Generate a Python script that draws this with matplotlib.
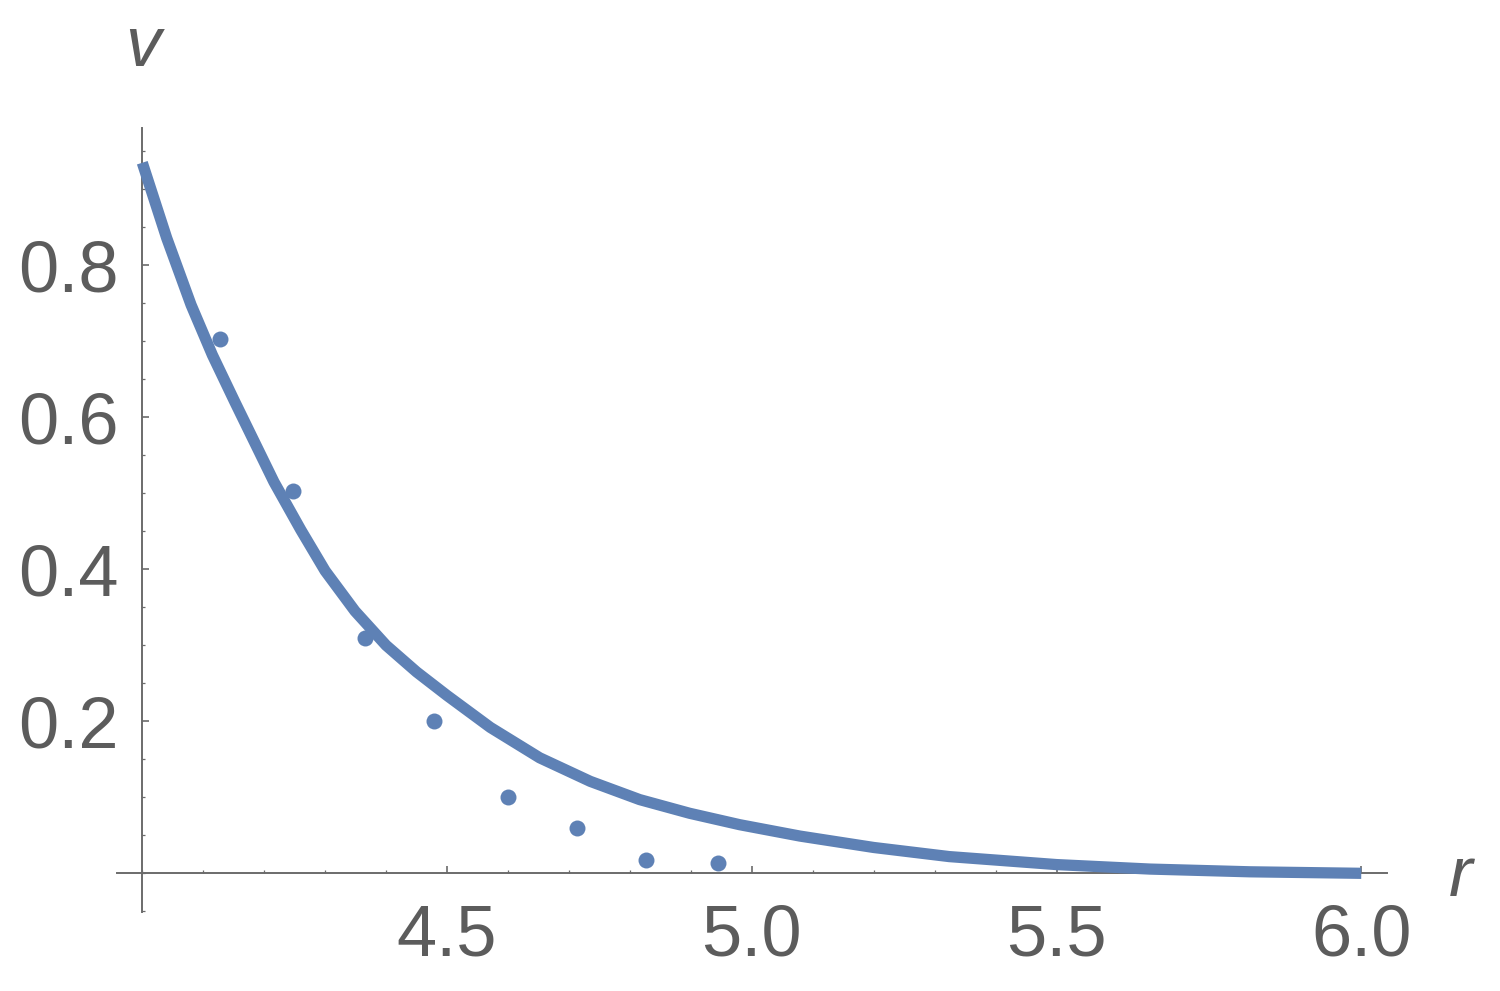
import matplotlib
matplotlib.use("Agg")
import matplotlib.pyplot as plt
from matplotlib.ticker import MultipleLocator, FixedLocator

# Fitted curve
curve_r = [4.000, 4.040, 4.080, 4.115, 4.152, 4.216, 4.260, 4.300, 4.349,
           4.400, 4.450, 4.500, 4.571, 4.652, 4.735, 4.816, 4.898, 4.980,
           5.079, 5.200, 5.324, 5.500, 5.653, 5.817, 6.000]
curve_v = [0.935, 0.836, 0.748, 0.682, 0.620, 0.515, 0.452, 0.398, 0.345,
           0.300, 0.265, 0.234, 0.192, 0.152, 0.121, 0.097, 0.079, 0.064,
           0.049, 0.034, 0.022, 0.0115, 0.0056, 0.002, 0.000]

# Data points
pts_r = [4.127, 4.247, 4.366, 4.479, 4.600, 4.713, 4.826, 4.944]
pts_v = [0.703, 0.503, 0.309, 0.201, 0.100, 0.060, 0.017, 0.013]

x_ticks = [4.5, 5.0, 5.5, 6.0]
x_labels = ["4.5", "5.0", "5.5", "6.0"]
y_ticks = [0.2, 0.4, 0.6, 0.8]
y_labels = ["0.2", "0.4", "0.6", "0.8"]

BLUE = "#5E81B5"
AXC = "#6b6b6b"
TXC = "#5c5c5c"
FONT = "Liberation Sans"

fig = plt.figure(figsize=(15, 9.91), dpi=100)
ax = fig.add_axes([117/1500, 1-912/991, (1387-117)/1500, (912-128)/991])

ax.plot(pts_r, pts_v, "o", color=BLUE, markersize=11.5, markeredgewidth=0, zorder=3)
ax.plot(curve_r, curve_v, "-", color=BLUE, linewidth=8.1, solid_capstyle="butt",
        solid_joinstyle="round", zorder=4)

ax.set_xlim(3.9585, 6.0422)
ax.set_ylim(-0.0509, 0.9807)

for s in ["top", "right"]:
    ax.spines[s].set_visible(False)
ax.spines["left"].set_position(("data", 4.0))
ax.spines["bottom"].set_position(("data", 0.0))
for s in ["left", "bottom"]:
    ax.spines[s].set_color(AXC)
    ax.spines[s].set_linewidth(1.4)

ax.xaxis.set_major_locator(FixedLocator(x_ticks))
ax.set_xticklabels(x_labels)
ax.yaxis.set_major_locator(FixedLocator(y_ticks))
ax.set_yticklabels(y_labels)
ax.xaxis.set_minor_locator(MultipleLocator(0.1))
ax.yaxis.set_minor_locator(MultipleLocator(0.05))

ax.tick_params(axis="both", which="major", direction="in", length=5, width=1.2,
               color=AXC, labelcolor=TXC, labelsize=52)
ax.tick_params(axis="both", which="minor", direction="in", length=2.5, width=0.9,
               color=AXC)
ax.tick_params(axis="x", which="major", pad=22)
ax.tick_params(axis="y", which="major", pad=17)
for lab in ax.get_xticklabels() + ax.get_yticklabels():
    lab.set_family(FONT)

fig.text(143/1500, 1-48/991, "v", ha="center", va="center", fontsize=51,
         style="italic", family=FONT, color=TXC)
fig.text(1461/1500, 1-878/991, "r", ha="center", va="center", fontsize=51,
         style="italic", family=FONT, color=TXC)

fig.savefig("out.png", dpi=100, facecolor="white")
